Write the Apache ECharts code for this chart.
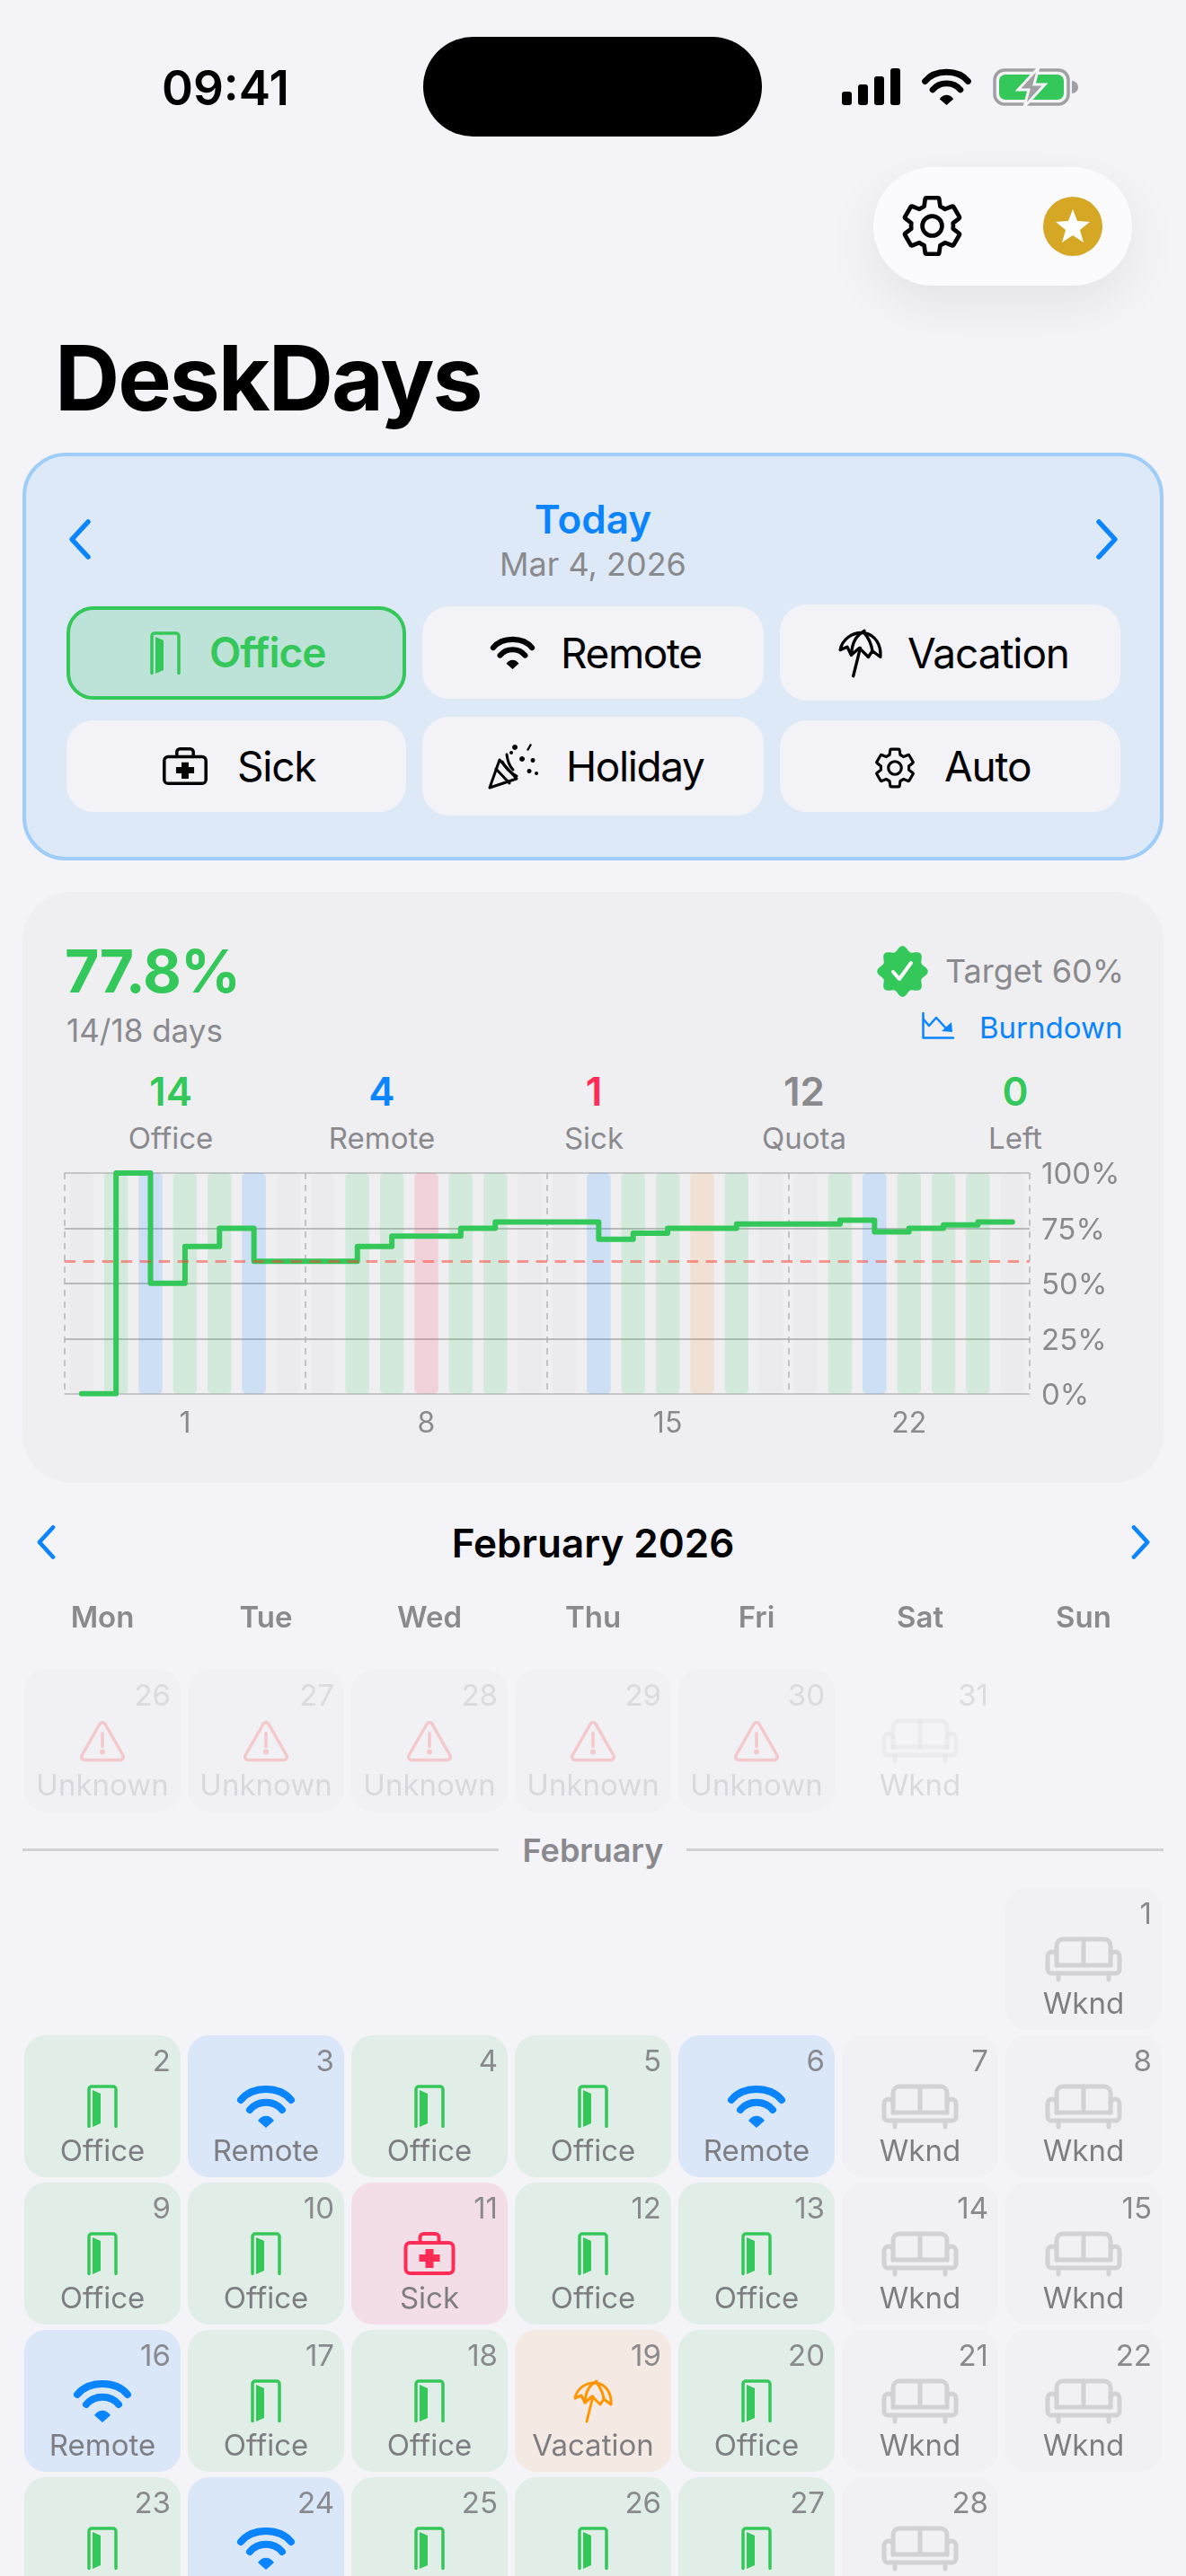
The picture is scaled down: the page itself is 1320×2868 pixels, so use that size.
<!DOCTYPE html>
<html lang="en">
<head>
<meta charset="UTF-8">
<title>DeskDays</title>
<script src="https://cdn.jsdelivr.net/npm/echarts@6/dist/echarts.min.js"></script>
<style>
  html, body { margin: 0; padding: 0; width: 1320px; height: 2868px; overflow: hidden; background: #F3F3F8; font-family: Inter, "Noto Sans", sans-serif; color: #000; }
  .abs { position: absolute; white-space: nowrap; line-height: 1; }
  .mid { transform: translateX(-50%); }
  .btn { position: absolute; background: #F2F2F7; border-radius: 30px; box-sizing: border-box; }
  .ico { position: absolute; display: block; overflow: visible; }
  #burndown { position: absolute; left: 25px; top: 1280px; width: 1270px; height: 340px; }
  #calendar { position: absolute; left: 0; top: 1760px; width: 1320px; height: 1160px; }
</style>
</head>
<body>
<div id="page"></div>
<div id="burndown"></div>
<div id="calendar"></div>

<script>
  // burndown chart values, one entry per day of February
  const dayLabels = ['', '', '', '1', '', '', '', '', '', '', '8', '', '', '', '', '', '', '15', '', '', '', '', '', '', '22', '', '', '']
  const dayStatus = ['weekend', 'office', 'remote', 'office', 'office', 'remote', 'weekend', 'weekend', 'office', 'office', 'sick', 'office', 'office', 'weekend', 'weekend', 'remote', 'office', 'office', 'vacation', 'office', 'weekend', 'weekend', 'office', 'remote', 'office', 'office', 'office', 'weekend']
  const officePct = [0, 100, 50, 66.7, 75, 60, 60, 60, 66.7, 71.4, 71.4, 75, 77.8, 77.8, 77.8, 70, 72.7, 75, 75, 76.9, 76.9, 76.9, 78.6, 73.3, 75, 76.5, 77.8, 77.8]
  const targetPct = 60

  // calendar values
  const weekDays = ['Mon', 'Tue', 'Wed', 'Thu', 'Fri', 'Sat', 'Sun']
  const prevDays = [26, 27, 28, 29, 30, 31]
  const prevStatus = ['unknown', 'unknown', 'unknown', 'unknown', 'unknown', 'weekend']
  const febRows = ['w1', 'w2', 'w3', 'w4', 'w5']

  // summary row
  const summaryValues = ['14', '4', '1', '12', '0']
  const summaryNames = ['Office', 'Remote', 'Sick', 'Quota', 'Left']
  const summaryColors = ['#34C759', '#0A84FF', '#FF2D55', '#8A8A8E', '#34C759']

  const barColors = {
    office: 'rgba(52,199,89,0.15)',
    remote: 'rgba(10,132,255,0.15)',
    sick: 'rgba(255,45,85,0.15)',
    vacation: 'rgba(255,130,20,0.13)',
    weekend: 'rgba(142,142,147,0.04)'
  }
  const cellColors = { office: '#E0EEE7', remote: '#D9E7F8', sick: '#F3DDE6', vacation: '#F5E9E3', weekend: '#F0F0F5', unknown: '#E9E6EC' }
  const iconColors = { office: '#34C759', remote: '#0A84FF', sick: '#FF2D55', vacation: '#FF9500', weekend: '#D1D1D6', unknown: '#FF3B30' }
  const statusNames = { office: 'Office', remote: 'Remote', sick: 'Sick', vacation: 'Vacation', weekend: 'Wknd', unknown: 'Unknown' }
  const statusIcons = { office: 'door', remote: 'wifi', sick: 'bag', vacation: 'umbrella', weekend: 'couch', unknown: 'warn' }

  // icon parts: d = svg path, f = filled, otherwise stroked with sw
  const ICONS = {
    door: { w: 34, h: 48, sw: 3.5, parts: [{ d: 'M2 46.5 V5 a3 3 0 0 1 3 -3 H29 a3 3 0 0 1 3 3 V46.5' }, { d: 'M6 6 L15 10 V43 L6 47 Z', f: 1 }] },
    wifi: { w: 66, h: 48, sw: 8, parts: [{ d: 'M5 17 C18 1 48 1 61 17' }, { d: 'M15 28 C24 17 42 17 51 28' }, { d: 'M24 40 C29 33 37 33 42 40 L33 48 Z', f: 1 }] },
    couch: { w: 84, h: 48, sw: 5, parts: [{ d: 'M12 20 V9 a7 7 0 0 1 7 -7 H65 a7 7 0 0 1 7 7 V20' }, { d: 'M42 2 V30' }, { d: 'M12 31 H72' }, { d: 'M12 31 V21 a5 5 0 0 0 -10 0 V36 a4 4 0 0 0 4 4 H78 a4 4 0 0 0 4 -4 V21 a5 5 0 0 0 -10 0 V31' }, { d: 'M14 40 V47 M70 40 V47' }] },
    bag: { w: 57, h: 48, sw: 4, parts: [{ d: 'M7 12 H50 a5 5 0 0 1 5 5 V41 a5 5 0 0 1 -5 5 H7 a5 5 0 0 1 -5 -5 V17 a5 5 0 0 1 5 -5 Z' }, { d: 'M18 12 V6 a4 4 0 0 1 4 -4 H35 a4 4 0 0 1 4 4 V12' }, { d: 'M24 19 H33 V25 H40 V33 H33 V40 H24 V33 H17 V25 H24 Z', f: 1 }] },
    umbrella: { w: 42, h: 46, sw: 3, parts: [{ d: 'M25 3 C12 2 3 10 1 20 L8 17 L12 25 L20 18 L29 27 L33 21 L41 27 C42 15 36 5 25 3 Z' }, { d: 'M25 1 C17 6 13 11 12 25 M25 3 C30 9 32 14 33 21' }, { d: 'M21 18 L14 46' }] },
    warn: { w: 52, h: 47, sw: 3.5, parts: [{ d: 'M23 5 a3.5 3.5 0 0 1 6 0 L49 40 a3.5 3.5 0 0 1 -3 5 H6 a3.5 3.5 0 0 1 -3 -5 Z' }, { d: 'M26 15 V30' }, { d: 'M26 33 a3 3 0 0 1 0 6 a3 3 0 0 1 0 -6 Z', f: 1 }] },
    gear: { w: 24, h: 24, sw: 1.5, parts: [{ d: 'M19.43 12.98c.04-.32.07-.64.07-.98s-.03-.66-.07-.98l2.11-1.65c.19-.15.24-.42.12-.64l-2-3.46c-.12-.22-.39-.3-.61-.22l-2.49 1c-.52-.4-1.08-.73-1.69-.98l-.38-2.65C14.46 2.18 14.25 2 14 2h-4c-.25 0-.46.18-.49.42l-.38 2.65c-.61.25-1.17.59-1.69.98l-2.49-1c-.23-.09-.49 0-.61.22l-2 3.46c-.13.22-.07.49.12.64l2.11 1.65c-.04.32-.07.65-.07.98s.03.66.07.98l-2.11 1.65c-.19.15-.24.42-.12.64l2 3.46c.12.22.39.3.61.22l2.49-1c.52.4 1.08.73 1.69.98l.38 2.65c.03.24.24.42.49.42h4c.25 0 .46-.18.49-.42l.38-2.65c.61-.25 1.17-.59 1.69-.98l2.49 1c.23.09.49 0 .61-.22l2-3.46c.12-.22.07-.49-.12-.64l-2.11-1.65z' }, { d: 'M12 8.5a3.5 3.5 0 1 0 0 7a3.5 3.5 0 1 0 0-7z' }] },
    party: { w: 56, h: 53, sw: 3, parts: [{ d: 'M2 51 L13 20 L32 41 Z' }, { d: 'M9 30 L24 46 M16 22 C20 30 24 34 32 38 M21 14 C22 22 24 27 28 31' }, { d: 'M30 3 a3 3 0 1 0 .1 0 Z M47 2 l2 1 l-4 7 l-2 -1 Z M38 16 a3 3 0 1 0 .1 0 Z M50 18 a2.5 2.5 0 1 0 .1 0 Z M46 30 a2.5 2.5 0 1 0 .1 0 Z M26 10 a2 2 0 1 0 .1 0 Z M54 33 a2 2 0 1 0 .1 0 Z', f: 1 }] },
    burn: { w: 35, h: 29, sw: 2.5, parts: [{ d: 'M1.5 0 V27.5 H35' }, { d: 'M2 7 L8 14 L16 5 L27 17' }, { d: 'M34 21 L22 20 L33 10 Z', f: 1 }] },
    chevL: { w: 25, h: 45, sw: 5.5, parts: [{ d: 'M22 3 L4 22.5 L22 42' }] },
    chevR: { w: 25, h: 45, sw: 5.5, parts: [{ d: 'M3 3 L21 22.5 L3 42' }] }
  }

  function iconSvg (name, color, x, y, w, h) {
    const ic = ICONS[name]
    const parts = ic.parts.map(p => p.f
      ? `<path d="${p.d}" fill="${color}"/>`
      : `<path d="${p.d}" fill="none" stroke="${color}" stroke-width="${ic.sw}" stroke-linecap="round" stroke-linejoin="round"/>`).join('')
    return `<svg class="ico" style="left:${x}px;top:${y}px" width="${w}" height="${h}" viewBox="0 0 ${ic.w} ${ic.h}">${parts}</svg>`
  }

  function text (str, x, y, size, weight, color, cls, ls) {
    return `<div class="abs ${cls || ''}" style="left:${x}px;top:${y}px;font-size:${size}px;font-weight:${weight};color:${color};letter-spacing:${ls || 0}px">${str}</div>`
  }

  // scalloped outline for the target badge
  function sealPath (cx, cy) {
    const pts = []
    for (let i = 0; i < 96; i++) {
      const a = i / 96 * Math.PI * 2 - Math.PI / 2
      const r = 25.5 + 2.8 * Math.cos(8 * (a + Math.PI / 2))
      pts.push((cx + r * Math.cos(a)).toFixed(1) + ' ' + (cy + r * Math.sin(a)).toFixed(1))
    }
    return 'M' + pts.join(' L') + ' Z'
  }

  function buildPage () {
    let h = ''
    // status bar
    h += text('09:41', 180, 72, 53, 600, '#000')
    h += '<div class="abs" style="left:471px;top:41px;width:377px;height:111px;border-radius:56px;background:#000"></div>'
    h += `<svg class="ico" style="left:937px;top:76px" width="66" height="42" fill="#000"><rect x="0" y="26" width="11" height="15" rx="3"/><rect x="18" y="18" width="11" height="23" rx="3"/><rect x="36" y="9" width="11" height="32" rx="3"/><rect x="54" y="0" width="11" height="41" rx="3"/></svg>`
    h += iconSvg('wifi', '#000', 1025, 76, 57, 41)
    h += `<svg class="ico" style="left:1105px;top:75px" width="94" height="44"><rect x="2" y="3" width="82" height="38" rx="11" fill="none" stroke="#A0A0A4" stroke-width="3.5"/><rect x="7" y="8" width="72" height="28" rx="7" fill="#34C759"/><path d="M88 15 a6 6 0 0 1 0 14 Z" fill="#A0A0A4"/><path d="M51 0 L28 25 H40 L35 44 L58 19 H46 Z" fill="#A0A0A4" stroke="#F3F3F8" stroke-width="3"/></svg>`

    // floating buttons
    h += '<div class="abs" style="left:972px;top:186px;width:288px;height:132px;border-radius:66px;background:#FBFBFD;box-shadow:0 20px 60px rgba(0,0,0,0.07)"></div>'
    h += iconSvg('gear', '#000', 1000, 214, 75, 75)
    h += `<svg class="ico" style="left:1161px;top:219px" width="66" height="66"><circle cx="33" cy="33" r="33" fill="#D6A724"/><path d="M33 14 L38 27 L52 28 L41 37 L45 51 L33 43 L21 51 L25 37 L14 28 L28 27 Z" fill="#fff"/></svg>`

    // title
    h += text('DeskDays', 61, 371, 100, 700, '#000', '', -2)

    // today panel
    h += '<div class="abs" style="left:25px;top:504px;width:1270px;height:454px;box-sizing:border-box;border:4px solid #9FCDF8;border-radius:48px;background:#DEE9F7"></div>'
    h += iconSvg('chevL', '#0A84FF', 76, 578, 25, 45)
    h += iconSvg('chevR', '#0A84FF', 1220, 578, 25, 45)
    h += text('Today', 660, 556, 44, 600, '#0A84FF', 'mid')
    h += text('Mar 4, 2026', 660, 610, 36, 400, '#8A8A8E', 'mid')

    h += '<div class="btn" style="left:74px;top:675px;width:378px;height:104px;background:#BDE3D9;border:4px solid #34C759"></div>'
    h += '<div class="btn" style="left:470px;top:675px;width:380px;height:103px"></div>'
    h += '<div class="btn" style="left:868px;top:673px;width:379px;height:107px"></div>'
    h += '<div class="btn" style="left:74px;top:802px;width:378px;height:102px"></div>'
    h += '<div class="btn" style="left:470px;top:798px;width:380px;height:110px"></div>'
    h += '<div class="btn" style="left:868px;top:802px;width:379px;height:102px"></div>'
    h += iconSvg('door', '#34C759', 167, 703, 34, 48)
    h += text('Office', 233, 703, 46, 600, '#34C759', '', -1)
    h += iconSvg('wifi', '#000', 545, 708, 51, 37)
    h += text('Remote', 624, 704, 46, 400, '#000', '', -1.4)
    h += iconSvg('umbrella', '#000', 934, 701, 47, 52)
    h += text('Vacation', 1010, 704, 46, 400, '#000', '', -1.1)
    h += iconSvg('bag', '#000', 181, 832, 50, 42)
    h += text('Sick', 264, 830, 46, 400, '#000', '', -1.2)
    h += iconSvg('party', '#000', 543, 826, 56, 53)
    h += text('Holiday', 630, 830, 46, 400, '#000', '', -1.4)
    h += iconSvg('gear', '#000', 971, 830, 50, 50)
    h += text('Auto', 1051, 830, 46, 400, '#000', '', -1.2)

    // stats card
    h += '<div class="abs" style="left:25px;top:993px;width:1270px;height:658px;border-radius:54px;background:#EFEFF2"></div>'
    h += text('77.8%', 72, 1048, 66, 700, '#34C759', '', -1)
    h += text('14/18 days', 74, 1130, 35, 400, '#8A8A8E')
    h += `<svg class="ico" style="left:976px;top:1053px" width="57" height="57"><path d="${sealPath(28.5, 28.5)}" fill="#34C759"/><path d="M18 29 L25 37 L38 19" fill="none" stroke="#fff" stroke-width="4" stroke-linecap="round" stroke-linejoin="round"/></svg>`
    h += text('Target 60%', 1052, 1063, 36, 400, '#8A8A8E')
    h += iconSvg('burn', '#0A84FF', 1026, 1128, 35, 29)
    h += text('Burndown', 1090, 1128, 33, 400, '#0A84FF')

    const centers = [190, 425, 661, 895, 1130]
    summaryValues.forEach((v, i) => {
      h += text(v, centers[i], 1193, 44, 600, summaryColors[i], 'mid')
      h += text(summaryNames[i], centers[i], 1251, 33, 400, '#8A8A8E', 'mid')
    })

    // calendar header
    h += iconSvg('chevL', '#0A84FF', 40, 1698, 22, 38)
    h += iconSvg('chevR', '#0A84FF', 1259, 1698, 22, 38)
    h += text('February 2026', 660, 1696, 44, 600, '#000', 'mid')
    h += '<div class="abs" style="left:25px;top:2058px;width:530px;height:3px;background:#D1D1D6"></div>'
    h += '<div class="abs" style="left:764px;top:2058px;width:531px;height:3px;background:#D1D1D6"></div>'
    h += text('February', 660, 2042, 36, 600, '#8A8A8E', 'mid')
    document.getElementById('page').innerHTML = h
  }

  function initBurndown () {
    const chart = echarts.init(document.getElementById('burndown'), null, { renderer: 'canvas' })
    chart.setOption({
      animation: false,
      grid: { left: 46.6, top: 26, width: 1074.4, height: 245.7 },
      xAxis: {
        type: 'category',
        data: dayLabels,
        axisLine: { show: false },
        axisTick: { show: false },
        axisLabel: { interval: 0, color: '#8A8A8E', fontFamily: 'Inter', fontSize: 32, margin: 18 },
        splitLine: {
          show: true,
          interval: i => i % 7 === 0,
          lineStyle: { color: '#B5B5B9', width: 1.5, type: [7, 6] }
        }
      },
      yAxis: {
        type: 'value',
        position: 'right',
        min: 0,
        max: 100,
        interval: 25,
        axisLine: { show: false },
        axisTick: { show: false },
        // small line box on a top anchor nudges the text just under its gridline
        axisLabel: { formatter: '{value}%', color: '#8A8A8E', fontFamily: 'Inter', fontSize: 33, margin: 13, verticalAlign: 'top', lineHeight: 5 },
        splitLine: { lineStyle: { color: ['#C6C6C9', '#BABABD', '#BABABD', '#BABABD', '#C6C6C9'], width: 1.8 } }
      },
      series: [
        {
          type: 'bar',
          barWidth: 26.5,
          silent: true,
          data: dayStatus.map(s => ({ value: 100, itemStyle: { color: barColors[s], borderRadius: 5 } }))
        },
        {
          type: 'line',
          step: 'end',
          silent: true,
          showSymbol: false,
          data: officePct,
          lineStyle: { color: '#34C759', width: 6, cap: 'round', join: 'round' },
          markLine: {
            silent: true,
            symbol: 'none',
            label: { show: false },
            lineStyle: { color: 'rgba(255,59,48,0.5)', width: 3, type: [12.5, 8.5] },
            data: [{ yAxis: targetPct }]
          }
        }
      ]
    })
  }

  function renderCell (cells, fade) {
    return function (params, api) {
      const c = cells[params.dataIndex]
      const p = api.coord([c.col, c.row])
      const s = api.size([1, 1])
      const w = s[0] - 8
      const h = s[1] - 6
      const ic = ICONS[statusIcons[c.status]]
      const color = iconColors[c.status]
      const kids = ic.parts.map(part => ({
        type: 'path',
        shape: { pathData: part.d },
        style: part.f
          ? { fill: color, opacity: fade }
          : { fill: 'none', stroke: color, lineWidth: ic.sw, lineCap: 'round', lineJoin: 'round', opacity: fade }
      }))
      // the faded weekend cell of the previous month has no background
      const bg = fade < 1 && c.status === 'weekend' ? 'transparent' : cellColors[c.status]
      return {
        type: 'group',
        children: [
          { type: 'rect', shape: { x: p[0] - w / 2, y: p[1] - h / 2, width: w, height: h, r: 24 }, style: { fill: bg, opacity: fade } },
          { type: 'group', x: p[0] - ic.w / 2, y: p[1] - ic.h / 2, children: kids },
          { type: 'text', style: { text: String(c.day), x: p[0] + w / 2 - 11, y: p[1] - 49, align: 'right', verticalAlign: 'middle', fill: '#8A8A8E', font: '400 33px Inter', opacity: fade } },
          { type: 'text', style: { text: statusNames[c.status], x: p[0], y: p[1] + 51, align: 'center', verticalAlign: 'middle', fill: '#7E7E82', font: '400 33px Inter', opacity: fade } }
        ]
      }
    }
  }

  function initCalendar () {
    const prevCells = prevDays.map((d, i) => ({ col: i, row: 0, day: d, status: prevStatus[i] }))
    // Feb 1 2026 is a Sunday, so day d sits at slot d + 5
    const febCells = dayStatus.map((s, i) => ({ col: (i + 6) % 7, row: Math.floor((i + 6) / 7), day: i + 1, status: s }))
    const chart = echarts.init(document.getElementById('calendar'), null, { renderer: 'canvas' })
    chart.setOption({
      animation: false,
      grid: [
        { left: 23, top: 96, width: 1274, height: 164 },
        { left: 23, top: 339, width: 1274, height: 820 }
      ],
      xAxis: [
        { gridIndex: 0, type: 'category', position: 'top', data: weekDays, axisLine: { show: false }, axisTick: { show: false }, axisLabel: { color: '#8A8A8E', fontFamily: 'Inter', fontWeight: 600, fontSize: 33, margin: 37 } },
        { gridIndex: 1, type: 'category', data: weekDays, show: false }
      ],
      yAxis: [
        { gridIndex: 0, type: 'category', data: ['prev'], inverse: true, show: false },
        { gridIndex: 1, type: 'category', data: febRows, inverse: true, show: false }
      ],
      series: [
        { type: 'custom', silent: true, xAxisIndex: 0, yAxisIndex: 0, clip: false, renderItem: renderCell(prevCells, 0.22), data: prevCells.map(c => [c.col, c.row, c.day]) },
        { type: 'custom', silent: true, xAxisIndex: 1, yAxisIndex: 1, clip: false, renderItem: renderCell(febCells, 1), data: febCells.map(c => [c.col, c.row, c.day]) }
      ]
    })
  }

  buildPage()
  initBurndown()
  initCalendar()
</script>
</body>
</html>
